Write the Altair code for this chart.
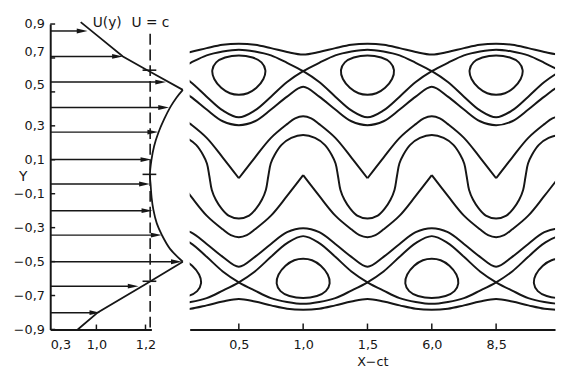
import altair as alt
import pandas as pd

INK = "#161616"
FONT = "DejaVu Sans"
H = 311
W_LEFT = 103
W_RIGHT = 372

# ---------------- left panel: velocity profile U(y) ----------------
y_tick_values = [0.9, 0.7, 0.5, 0.3, 0.1, -0.1, -0.3, -0.5, -0.7, -0.9]
u_tick_values = [0.3, 1.0, 1.2]
u_tick_labels = ["0,3", "1,0", "1,2"]
u_scale_domain = [0.3, 1.0, 1.2, 1.224]
u_scale_range = [0, 47, 97, 103]

arrow_y = [0.859, 0.709, 0.558, 0.408, 0.263, 0.101, -0.043, -0.200, -0.344, -0.501, -0.645, -0.801]
arrow_tip = [0.866, 1.108, 1.284, 1.296, 1.252, 1.224, 1.218, 1.228, 1.266, 1.348, 1.172, 1.016]

profile_top_u = [0.762, 1.0, 1.108, 1.2, 1.228, 1.352]
profile_top_y = [0.911, 0.836, 0.709, 0.634, 0.611, 0.512]
profile_mid_u = [1.352, 1.326, 1.301, 1.276, 1.252, 1.235, 1.224, 1.218, 1.221, 1.225, 1.232, 1.246, 1.267, 1.300, 1.352]
profile_mid_y = [0.512, 0.466, 0.410, 0.339, 0.258, 0.180, 0.097, 0.012, -0.049, -0.124, -0.194, -0.275, -0.344, -0.425, -0.501]
profile_bot_u = [1.352, 1.2, 1.004, 1.0, 0.717]
profile_bot_y = [-0.501, -0.634, -0.801, -0.807, -0.900]
c_value = 1.219
c_top = 0.842
critical_y = [0.628, 0.014, -0.616]
critical_u = [1.188, 1.244]

left_texts = ["U(y)", "U = c", "Y"]
left_text_u = [1.044, 1.22, -0.110]
left_text_y = [0.906, 0.906, -0.003]

# ---------------- right panel: streamlines ----------------
x_domain = [0.118, 2.958]
x_tick_values = [0.5, 1.0, 1.5, 2.0, 2.5]
x_tick_labels = ["0,5", "1,0", "1,5", "6,0", "8,5"]

grid8 = [0.5, 0.625, 0.75, 0.875, 1.0, 1.125, 1.25, 1.375]
top_open_y = [0.784, 0.778, 0.758, 0.735, 0.720, 0.735, 0.758, 0.778]
below_sep_top_y = [0.304, 0.327, 0.396, 0.472, 0.530, 0.472, 0.396, 0.327]
above_sep_bot_y = [-0.530, -0.472, -0.396, -0.327, -0.304, -0.327, -0.396, -0.472]
bottom_open_y = [-0.720, -0.735, -0.758, -0.778, -0.784, -0.778, -0.758, -0.735]

sep_top_u = [0.5, 0.625, 0.75, 0.875, 1.0, 1.125, 1.25, 1.375, 1.5, 1.625, 1.75, 1.875, 2.0, 2.125, 2.25, 2.375]
sep_top_y = [0.749, 0.738, 0.715, 0.671, 0.622, 0.558, 0.472, 0.391, 0.350, 0.391, 0.472, 0.558, 0.622, 0.671, 0.715, 0.738]
sep_bot_u = [1.0, 1.125, 1.25, 1.375, 1.5, 1.625, 1.75, 1.875, 2.0, 2.125, 2.25, 2.375, 2.5, 2.625, 2.75, 2.875]
sep_bot_y = [-0.749, -0.738, -0.715, -0.671, -0.622, -0.558, -0.472, -0.391, -0.350, -0.391, -0.472, -0.558, -0.622, -0.671, -0.715, -0.738]

meander_u = [0.5, 0.58, 0.634, 0.679, 0.710, 0.729, 0.748, 0.779, 0.832, 0.908, 1.0, 1.092, 1.168, 1.221, 1.252, 1.271, 1.290, 1.321, 1.366, 1.420]
meander_y = [-0.246, -0.229, -0.188, -0.136, -0.078, 0.003, 0.078, 0.130, 0.188, 0.229, 0.246, 0.229, 0.188, 0.130, 0.078, 0.003, -0.078, -0.136, -0.188, -0.229]

upper_band_u = [0.5, 0.625, 0.75, 0.875, 0.9375, 1.0, 1.0625, 1.125, 1.25, 1.375, 1.5]
upper_band_y = [-0.009, 0.113, 0.229, 0.310, 0.344, 0.356, 0.344, 0.310, 0.229, 0.113, -0.009]
lower_band_u = [0.0, 0.125, 0.25, 0.375, 0.4375, 0.5, 0.5625, 0.625, 0.75, 0.875, 1.0]
lower_band_y = [0.009, -0.113, -0.229, -0.310, -0.344, -0.356, -0.344, -0.310, -0.229, -0.113, 0.009]

eye_du = [0.0, 0.107, 0.176, 0.206, 0.191, 0.137, 0.069, 0.0, -0.069, -0.137, -0.191, -0.206, -0.176, -0.107]
top_eye_y = [0.715, 0.703, 0.674, 0.628, 0.576, 0.524, 0.492, 0.483, 0.492, 0.524, 0.576, 0.628, 0.674, 0.703]
bottom_eye_y = [-0.715, -0.703, -0.674, -0.628, -0.576, -0.524, -0.492, -0.483, -0.492, -0.524, -0.576, -0.628, -0.674, -0.703]
top_eye_centres = [0.5, 1.5, 2.5]
bottom_eye_centres = [0.0, 1.0, 2.0, 3.0]

# ---------------- build tables ----------------
line_rows = []


def add_repeated(name, us, ys, period, shifts, phase=0.0):
    i = 0
    for k in shifts:
        for u, y in zip(us, ys):
            line_rows.append({"u": u + phase + k * period, "Y": y, "id": name, "i": i})
            i += 1


for nm, ys in [("c1", top_open_y), ("t4", below_sep_top_y), ("b4", above_sep_bot_y), ("b1", bottom_open_y)]:
    add_repeated(nm, grid8, ys, 1.0, [-1, 0, 1, 2])
add_repeated("m2", meander_u, meander_y, 1.0, [-1, 0, 1, 2])
for ph in [0.0, 1.0]:
    add_repeated(f"st{ph}", sep_top_u, sep_top_y, 2.0, [-1, 0, 1], phase=ph)
    add_repeated(f"sb{ph}", sep_bot_u, sep_bot_y, 2.0, [-1, 0, 1], phase=ph)
for k in [-1, 0, 1, 2]:
    add_repeated(f"m1_{k}", upper_band_u, upper_band_y, 1.0, [k])
for k in [-1, 0, 1, 2, 3]:
    add_repeated(f"m3_{k}", lower_band_u, lower_band_y, 1.0, [k])
lines_df = pd.DataFrame(line_rows)

eye_rows = []
for j, c in enumerate(top_eye_centres):
    for i, (du, y) in enumerate(zip(eye_du, top_eye_y)):
        eye_rows.append({"u": c + du, "Y": y, "id": f"te{j}", "i": i})
for j, c in enumerate(bottom_eye_centres):
    for i, (du, y) in enumerate(zip(eye_du, bottom_eye_y)):
        eye_rows.append({"u": c + du, "Y": y, "id": f"be{j}", "i": i})
eyes_df = pd.DataFrame(eye_rows)

arrows_df = pd.DataFrame({"U0": [0.3] * len(arrow_y), "U": arrow_tip, "Y": arrow_y})
prof_lines_df = pd.DataFrame(
    [{"U": u, "Y": y, "seg": "top", "i": i} for i, (u, y) in enumerate(zip(profile_top_u, profile_top_y))]
    + [{"U": u, "Y": y, "seg": "bot", "i": i} for i, (u, y) in enumerate(zip(profile_bot_u, profile_bot_y))]
)
prof_mid_df = pd.DataFrame({"U": profile_mid_u, "Y": profile_mid_y, "i": list(range(len(profile_mid_u)))})
dash_df = pd.DataFrame({"U": [c_value], "Y": [c_top], "Y2": [-0.9]})
crit_df = pd.DataFrame({"U": [critical_u[0]] * 3, "U2": [critical_u[1]] * 3, "Y": critical_y})
ltext_df = pd.DataFrame({"U": left_text_u, "Y": left_text_y, "label": left_texts})
ytick_df = pd.DataFrame({"Y": y_tick_values})
utick_df = pd.DataFrame({"U": [1.0, 1.2]})
xtick_df = pd.DataFrame({"u": x_tick_values})


def label_lookup(values, labels):
    arr = "[" + ",".join(f"'{l}'" for l in labels) + "]"
    vals = "[" + ",".join(str(v) for v in values) + "]"
    return f"{arr}[indexof({vals}, datum.value)]"


common_axis = dict(
    grid=False, ticks=False, tickSize=0, domainColor=INK, domainWidth=2,
    labelFont=FONT, labelFontSize=13, labelColor=INK,
)

yscale = alt.Scale(domain=[-0.9, 0.9], nice=False, zero=False)
axis_y = alt.Axis(
    values=y_tick_values, title=None, labelPadding=6,
    labelExpr="(datum.value < 0 ? '−' : '') + replace(format(abs(datum.value), '.1f'), '.', ',')",
    labelOffset=alt.condition("abs(datum.value - 0.7) < 0.01 || abs(datum.value - 0.5) < 0.01",
                              alt.value(-7), alt.value(0)),
    **common_axis,
)
axis_l = alt.Axis(values=u_tick_values, title=None, labelPadding=9,
                  labelExpr=label_lookup(u_tick_values, u_tick_labels), **common_axis)
uscale = alt.Scale(domain=u_scale_domain, range=u_scale_range, nice=False, zero=False)


def xl(field="U"):
    return alt.X(f"{field}:Q", scale=uscale, axis=axis_l)


yl = alt.Y("Y:Q", scale=yscale, axis=axis_y)

dash = alt.Chart(dash_df).mark_rule(color=INK, strokeWidth=1.6, strokeDash=[11, 5]).encode(
    x=xl(), y=yl, y2="Y2:Q")
crit = alt.Chart(crit_df).mark_rule(color=INK, strokeWidth=1.6).encode(x=xl(), x2="U2:Q", y=yl)
prof_lines = alt.Chart(prof_lines_df).mark_line(color=INK, strokeWidth=1.8).encode(
    x=xl(), y=yl, detail="seg:N", order="i:Q")
prof_mid = alt.Chart(prof_mid_df).mark_line(color=INK, strokeWidth=1.8, interpolate="catmull-rom").encode(
    x=xl(), y=yl, order="i:Q")
shafts = alt.Chart(arrows_df).mark_rule(color=INK, strokeWidth=1.5, x2Offset=-6).encode(
    x=xl("U0"), x2="U:Q", y=yl)
heads = alt.Chart(arrows_df).mark_point(
    shape="M-1,-0.45L1,0L-1,0.45Z", size=121, filled=True, opacity=1, color=INK,
    strokeWidth=0, xOffset=-5.5).encode(x=xl(), y=yl)
ltext = alt.Chart(ltext_df).mark_text(font=FONT, fontSize=14, color=INK).encode(
    x=xl(), y=yl, text="label:N")
yticks = alt.Chart(ytick_df).mark_rule(color=INK, strokeWidth=1.5).encode(
    y=yl, x=alt.value(0), x2=alt.value(5))
uticks = alt.Chart(utick_df).mark_rule(color=INK, strokeWidth=1.5).encode(
    x=xl(), y=alt.value(H), y2=alt.value(H - 5))

left = alt.layer(dash, crit, prof_lines, prof_mid, shafts, heads, ltext, yticks, uticks).properties(
    width=W_LEFT, height=H)

axis_r = alt.Axis(values=x_tick_values, title="X−ct", labelPadding=9,
                  labelExpr=label_lookup(x_tick_values, x_tick_labels),
                  titleFont=FONT, titleFontSize=13, titleFontWeight="normal", titleColor=INK,
                  titlePadding=5, **common_axis)
xr = alt.X("u:Q", scale=alt.Scale(domain=x_domain, nice=False, zero=False), axis=axis_r)
yr = alt.Y("Y:Q", scale=yscale, axis=None)

stream = alt.Chart(lines_df).mark_line(color=INK, strokeWidth=2, interpolate="catmull-rom", clip=True).encode(
    x=xr, y=yr, detail="id:N", order="i:Q")
eyes = alt.Chart(eyes_df).mark_line(color=INK, strokeWidth=2, interpolate="cardinal-closed", clip=True).encode(
    x=xr, y=yr, detail="id:N", order="i:Q")
xticks = alt.Chart(xtick_df).mark_rule(color=INK, strokeWidth=1.5).encode(
    x=xr, y=alt.value(H), y2=alt.value(H - 6))

right = alt.layer(stream, eyes, xticks).properties(width=W_RIGHT, height=H)

chart = alt.hconcat(left, right, spacing=39, bounds="flush").properties(
    padding={"left": 5, "top": 4, "right": 2, "bottom": 0},
    background="white",
).configure_view(stroke=None)

chart.save("out.html", embed_options={"renderer": "svg", "actions": False})
